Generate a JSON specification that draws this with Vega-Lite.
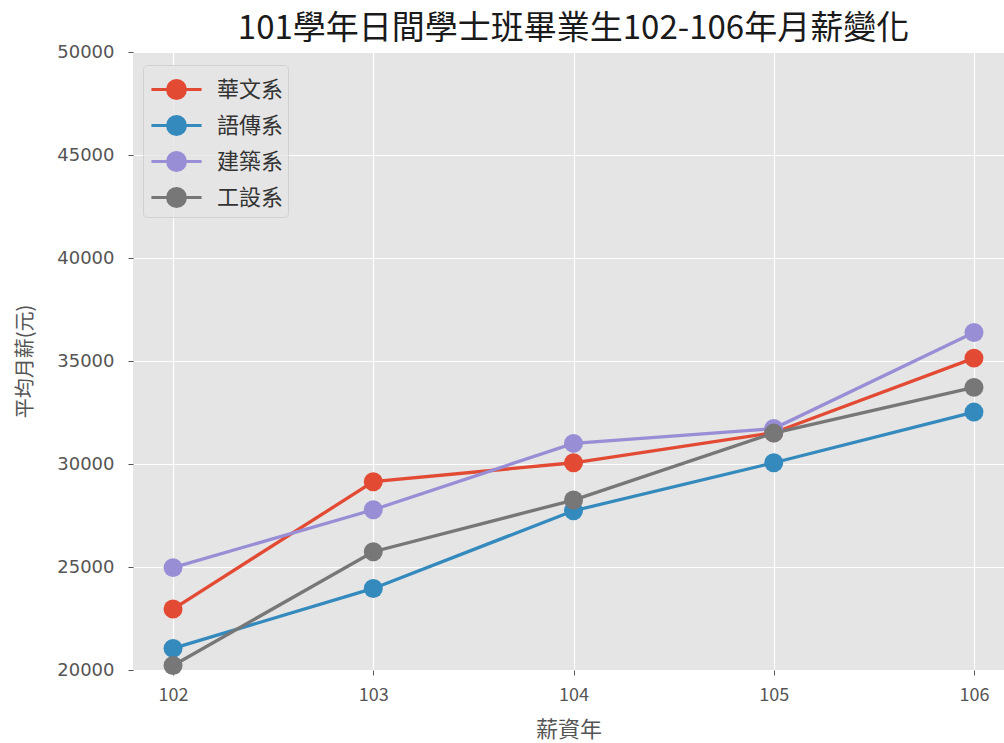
{
  "$schema": "https://vega.github.io/schema/vega-lite/v6.json",
  "autosize": "none",
  "width": 871,
  "height": 618,
  "padding": {"left": 133, "top": 52, "right": 0, "bottom": 73},
  "background": "white",
  "title": {
    "text": "101學年日間學士班畢業生102-106年月薪變化",
    "font": "Noto Sans CJK TC",
    "fontSize": 33,
    "fontWeight": "normal",
    "color": "#1a1a1a",
    "offset": -3,
    "dx": 5
  },
  "data": {
    "values": [
      {"year": 102, "dept": "華文系", "salary": 22960},
      {"year": 103, "dept": "華文系", "salary": 29140},
      {"year": 104, "dept": "華文系", "salary": 30060},
      {"year": 105, "dept": "華文系", "salary": 31520},
      {"year": 106, "dept": "華文系", "salary": 35140},
      {"year": 102, "dept": "語傳系", "salary": 21050},
      {"year": 103, "dept": "語傳系", "salary": 23960},
      {"year": 104, "dept": "語傳系", "salary": 27730},
      {"year": 105, "dept": "語傳系", "salary": 30060},
      {"year": 106, "dept": "語傳系", "salary": 32520},
      {"year": 102, "dept": "建築系", "salary": 24970},
      {"year": 103, "dept": "建築系", "salary": 27780},
      {"year": 104, "dept": "建築系", "salary": 31000},
      {"year": 105, "dept": "建築系", "salary": 31720},
      {"year": 106, "dept": "建築系", "salary": 36380},
      {"year": 102, "dept": "工設系", "salary": 20220},
      {"year": 103, "dept": "工設系", "salary": 25740},
      {"year": 104, "dept": "工設系", "salary": 28250},
      {"year": 105, "dept": "工設系", "salary": 31500},
      {"year": 106, "dept": "工設系", "salary": 33720}
    ]
  },
  "encoding": {
    "x": {
      "field": "year",
      "type": "quantitative",
      "scale": {"domain": [101.8, 106.15], "nice": false, "zero": false},
      "axis": {
        "title": "薪資年",
        "values": [102, 103, 104, 105, 106],
        "format": "d",
        "grid": true,
        "gridColor": "white",
        "gridWidth": 1.2,
        "domain": false,
        "tickColor": "#555555",
        "tickSize": 5,
        "labelPadding": 11,
        "labelFontSize": 18,
        "labelColor": "#555555",
        "labelFont": "Noto Sans CJK TC",
        "titleFont": "Noto Sans CJK TC",
        "titleFontSize": 22,
        "titleFontWeight": "normal",
        "titleColor": "#555555",
        "titlePadding": 15
      }
    },
    "y": {
      "field": "salary",
      "type": "quantitative",
      "scale": {"domain": [20000, 50000], "nice": false, "zero": false},
      "axis": {
        "title": "平均月薪(元)",
        "values": [20000, 25000, 30000, 35000, 40000, 45000, 50000],
        "format": "d",
        "grid": true,
        "gridColor": "white",
        "gridWidth": 1.2,
        "domain": false,
        "tickColor": "#555555",
        "tickSize": 5,
        "labelPadding": 14,
        "labelFontSize": 18,
        "labelColor": "#555555",
        "labelFont": "DejaVu Sans",
        "titleFont": "Noto Sans CJK TC",
        "titleFontSize": 20,
        "titleFontWeight": "normal",
        "titleColor": "#555555",
        "titlePadding": 21
      }
    },
    "color": {
      "field": "dept",
      "type": "nominal",
      "scale": {
        "domain": ["華文系", "語傳系", "建築系", "工設系"],
        "range": ["#E24A33", "#348ABD", "#988ED5", "#777777"]
      },
      "legend": {
        "title": null,
        "orient": "none",
        "legendX": 10,
        "legendY": 13,
        "fillColor": "rgba(229,229,229,0.8)",
        "strokeColor": "rgba(204,204,204,0.8)",
        "cornerRadius": 4,
        "padding": 4,
        "rowPadding": 0,
        "symbolType": "M-1.32,0L1.32,0M0.47,0A0.47,0.47,0,1,1,-0.47,0A0.47,0.47,0,1,1,0.47,0Z",
        "symbolSize": 1444,
        "symbolStrokeWidth": 3,
        "symbolOffset": 9,
        "labelOffset": 20,
        "labelFont": "Noto Sans CJK TC",
        "labelFontSize": 22,
        "labelColor": "#333333",
        "encode": {
          "symbols": {
            "update": {
              "fill": {"scale": "color", "field": "value"},
              "stroke": {"scale": "color", "field": "value"},
              "strokeWidth": {"value": 3},
              "opacity": {"value": 1}
            }
          }
        }
      }
    }
  },
  "layer": [
    {"mark": {"type": "line", "strokeWidth": 3.3}},
    {"mark": {"type": "point", "filled": true, "size": 360, "opacity": 1}}
  ],
  "config": {
    "view": {"fill": "#E5E5E5", "stroke": null},
    "font": "Noto Sans CJK TC"
  }
}
